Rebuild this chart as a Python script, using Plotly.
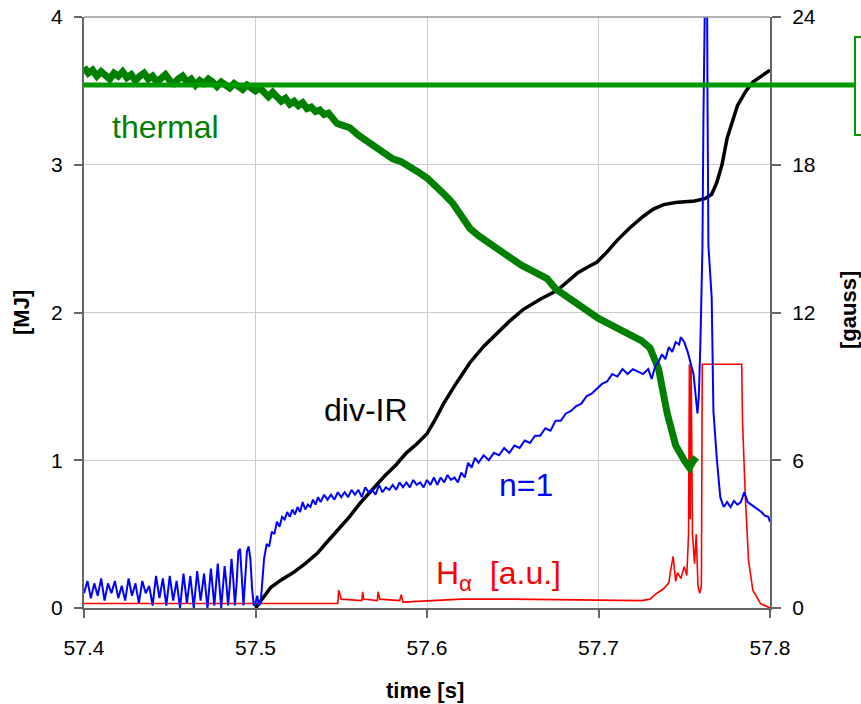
import plotly.graph_objects as go

# ---------------- data ----------------
# stored energy "thermal" [MJ] (time, value)
thermal_pts = [
    (57.4000, 3.66), (57.4025, 3.62), (57.4050, 3.64), (57.4075, 3.60), (57.4100, 3.63),
    (57.4125, 3.61), (57.4150, 3.58), (57.4175, 3.62), (57.4200, 3.60), (57.4225, 3.63),
    (57.4250, 3.59), (57.4275, 3.61), (57.4300, 3.57), (57.4325, 3.60), (57.4350, 3.62),
    (57.4375, 3.58), (57.4400, 3.60), (57.4425, 3.56), (57.4450, 3.59), (57.4475, 3.61),
    (57.4500, 3.57), (57.4525, 3.55), (57.4550, 3.58), (57.4575, 3.60), (57.4600, 3.56),
    (57.4625, 3.58), (57.4650, 3.54), (57.4675, 3.57), (57.4700, 3.55), (57.4725, 3.58),
    (57.4750, 3.56), (57.4775, 3.53), (57.4800, 3.56), (57.4825, 3.54), (57.4850, 3.52),
    (57.4875, 3.55), (57.4900, 3.53), (57.4925, 3.51), (57.4950, 3.54), (57.4975, 3.52),
    (57.5000, 3.50), (57.5025, 3.52), (57.5050, 3.48), (57.5075, 3.46), (57.5100, 3.49),
    (57.5125, 3.45), (57.5150, 3.43), (57.5175, 3.45), (57.5200, 3.41), (57.5225, 3.43),
    (57.5250, 3.40), (57.5275, 3.42), (57.5300, 3.38), (57.5325, 3.39), (57.5350, 3.36),
    (57.5375, 3.37), (57.5400, 3.34), (57.5425, 3.35), (57.5450, 3.31), (57.5475, 3.28),
    (57.5500, 3.27), (57.5550, 3.25), (57.5600, 3.20), (57.5650, 3.16), (57.5700, 3.11),
    (57.5750, 3.08), (57.5800, 3.04), (57.5850, 3.02), (57.5900, 2.99), (57.5950, 2.95),
    (57.6000, 2.91), (57.6050, 2.86), (57.6100, 2.80), (57.6150, 2.74), (57.6200, 2.65),
    (57.6250, 2.57), (57.6300, 2.52), (57.6350, 2.48), (57.6400, 2.43), (57.6450, 2.39),
    (57.6500, 2.36), (57.6550, 2.32), (57.6600, 2.29), (57.6650, 2.26), (57.6700, 2.23),
    (57.6750, 2.16), (57.6800, 2.12), (57.6850, 2.07), (57.6900, 2.03), (57.6950, 1.99),
    (57.7000, 1.96), (57.7050, 1.93), (57.7100, 1.90), (57.7150, 1.87), (57.7200, 1.84),
    (57.7250, 1.81), (57.7300, 1.76), (57.7350, 1.62), (57.7400, 1.32), (57.7450, 1.10),
    (57.7500, 1.00), (57.7530, 0.95), (57.7550, 0.99), (57.7570, 1.02),
]

# divertor IR energy "div-IR" [MJ]
divir_pts = [
    (57.500, 0.00), (57.504, 0.06), (57.509, 0.14), (57.515, 0.19), (57.522, 0.24),
    (57.529, 0.30), (57.536, 0.37), (57.542, 0.45), (57.548, 0.53), (57.555, 0.62),
    (57.561, 0.71), (57.568, 0.80), (57.575, 0.89), (57.582, 0.97), (57.588, 1.05),
    (57.594, 1.11), (57.600, 1.18), (57.605, 1.28), (57.610, 1.39), (57.617, 1.52),
    (57.625, 1.66), (57.633, 1.77), (57.641, 1.86), (57.648, 1.94), (57.656, 2.02),
    (57.666, 2.09), (57.676, 2.15), (57.682, 2.21), (57.688, 2.27), (57.694, 2.31),
    (57.699, 2.34), (57.705, 2.41), (57.711, 2.49), (57.718, 2.57), (57.726, 2.65),
    (57.732, 2.70), (57.738, 2.73), (57.745, 2.745), (57.750, 2.75), (57.756, 2.755),
    (57.762, 2.77), (57.766, 2.80), (57.769, 2.88), (57.772, 3.00), (57.775, 3.18),
    (57.778, 3.30), (57.781, 3.40), (57.786, 3.50), (57.790, 3.56), (57.795, 3.60),
    (57.800, 3.64),
]

# n=1 mode amplitude [gauss]
n1_pts = [
    (57.400, 0.6), (57.402, 1.1), (57.404, 0.4), (57.406, 1.0), (57.408, 0.5),
    (57.410, 1.2), (57.412, 0.3), (57.414, 1.0), (57.416, 0.6), (57.418, 1.1),
    (57.420, 0.4), (57.422, 0.9), (57.424, 0.3), (57.426, 1.2), (57.428, 0.5),
    (57.430, 1.0), (57.432, 0.2), (57.434, 1.1), (57.436, 0.6), (57.438, 0.9),
    (57.440, 0.1), (57.442, 1.3), (57.444, 0.4), (57.446, 1.2), (57.448, 0.1),
    (57.450, 1.3), (57.452, 0.3), (57.454, 1.1), (57.456, 0.0), (57.458, 1.4),
    (57.460, 0.2), (57.462, 1.3), (57.464, 0.0), (57.466, 1.5), (57.468, 0.3),
    (57.470, 1.4), (57.472, 0.0), (57.474, 1.6), (57.476, 0.1), (57.478, 1.8),
    (57.480, 0.0), (57.481, 0.8), (57.482, 1.7), (57.483, 1.0), (57.484, 0.1),
    (57.485, 0.9), (57.486, 2.0), (57.487, 1.2), (57.488, 0.1), (57.489, 1.0),
    (57.490, 2.3), (57.491, 2.4), (57.492, 1.2), (57.493, 0.1), (57.494, 1.2),
    (57.495, 2.3), (57.496, 2.5), (57.497, 2.0), (57.498, 0.8), (57.499, 0.1),
    (57.500, 0.2), (57.501, 0.5), (57.502, 0.1), (57.503, 0.2), (57.505, 2.0),
    (57.5065, 2.6), (57.508, 2.5), (57.5095, 3.1), (57.511, 3.0), (57.5125, 3.5),
    (57.514, 3.3), (57.5155, 3.7), (57.517, 3.6), (57.5185, 3.9), (57.520, 3.7),
    (57.5215, 4.0), (57.523, 3.8), (57.5245, 4.1), (57.526, 3.9), (57.5275, 4.3),
    (57.529, 4.0), (57.5305, 4.2), (57.532, 4.1), (57.5335, 4.4), (57.535, 4.2),
    (57.5365, 4.5), (57.538, 4.3), (57.540, 4.6), (57.542, 4.4), (57.544, 4.6),
    (57.546, 4.4), (57.548, 4.7), (57.550, 4.5), (57.552, 4.7), (57.554, 4.5),
    (57.556, 4.8), (57.558, 4.6), (57.560, 4.8), (57.562, 4.5), (57.564, 4.9),
    (57.566, 4.7), (57.568, 4.8), (57.570, 4.6), (57.572, 5.0), (57.574, 4.7),
    (57.576, 4.9), (57.578, 4.8), (57.580, 5.0), (57.582, 4.8), (57.584, 5.1),
    (57.586, 4.9), (57.588, 5.1), (57.590, 4.9), (57.592, 5.2), (57.594, 5.0),
    (57.596, 5.1), (57.598, 4.9), (57.600, 5.2), (57.602, 5.0), (57.604, 5.3),
    (57.606, 5.0), (57.608, 5.3), (57.610, 5.1), (57.612, 5.4), (57.614, 5.2),
    (57.616, 5.3), (57.618, 5.1), (57.620, 5.5), (57.622, 5.3), (57.624, 5.9),
    (57.626, 5.7), (57.628, 6.1), (57.630, 5.9), (57.633, 6.2), (57.636, 6.0),
    (57.639, 6.3), (57.642, 6.2), (57.645, 6.5), (57.648, 6.3), (57.651, 6.6),
    (57.654, 6.5), (57.657, 6.8), (57.660, 6.7), (57.663, 7.0), (57.666, 7.0),
    (57.669, 7.3), (57.672, 7.2), (57.675, 7.6), (57.678, 7.6), (57.681, 7.9),
    (57.684, 8.0), (57.687, 8.2), (57.690, 8.3), (57.693, 8.6), (57.696, 8.7),
    (57.699, 8.9), (57.702, 9.1), (57.705, 9.2), (57.708, 9.5), (57.711, 9.4),
    (57.714, 9.7), (57.717, 9.5), (57.720, 9.7), (57.723, 9.6), (57.726, 9.5),
    (57.729, 9.7), (57.731, 9.3), (57.733, 9.8), (57.735, 10.0), (57.737, 10.3),
    (57.739, 10.1), (57.741, 10.6), (57.743, 10.4), (57.745, 10.8), (57.747, 10.7),
    (57.748, 11.0), (57.750, 10.8), (57.752, 10.4), (57.7554, 9.5), (57.7577, 7.9),
    (57.7585, 8.6), (57.7595, 11.0), (57.7606, 14.6), (57.7612, 20.0), (57.7615, 30.0),
    (57.7630, 30.0), (57.7636, 20.2), (57.7641, 14.7), (57.7660, 12.6), (57.7665, 9.9),
    (57.7670, 8.0), (57.7690, 6.05), (57.771, 4.5), (57.773, 4.1), (57.775, 4.3),
    (57.777, 4.1), (57.779, 4.35), (57.781, 4.2), (57.783, 4.3), (57.785, 4.7),
    (57.787, 4.3), (57.789, 4.2), (57.791, 4.1), (57.793, 4.0), (57.795, 3.9),
    (57.797, 3.75), (57.799, 3.7), (57.800, 3.5),
]

# H-alpha [a.u.], drawn on the MJ scale
halpha_pts = [
    (57.400, 0.03), (57.548, 0.03), (57.5485, 0.12), (57.550, 0.06), (57.562, 0.05),
    (57.5625, 0.11), (57.563, 0.06), (57.571, 0.05), (57.5715, 0.11), (57.5725, 0.06),
    (57.584, 0.05), (57.585, 0.09), (57.586, 0.04), (57.600, 0.05), (57.620, 0.06),
    (57.650, 0.06), (57.680, 0.055), (57.700, 0.05), (57.725, 0.05), (57.730, 0.06),
    (57.734, 0.10), (57.738, 0.13), (57.741, 0.17), (57.742, 0.25), (57.7435, 0.35),
    (57.745, 0.18), (57.746, 0.24), (57.748, 0.20), (57.750, 0.28), (57.7515, 0.22),
    (57.7525, 0.50), (57.753, 1.65), (57.7535, 0.60), (57.754, 1.65), (57.7548, 0.50),
    (57.756, 0.30), (57.757, 0.50), (57.758, 0.15), (57.759, 0.10), (57.760, 0.15),
    (57.7605, 1.65), (57.7835, 1.65), (57.784, 1.25), (57.7857, 0.73), (57.7875, 0.32),
    (57.790, 0.12), (57.7945, 0.03), (57.800, 0.00),
]

x_ticks = [57.4, 57.5, 57.6, 57.7, 57.8]
y_left_ticks = [0, 1, 2, 3, 4]
y_right_ticks = [0, 6, 12, 18, 24]
thermal_ref_level = 3.54

thermal_t, thermal_mj = zip(*thermal_pts)
divir_t, divir_mj = zip(*divir_pts)
n1_t, n1_gauss = zip(*n1_pts)
halpha_t, halpha_au = zip(*halpha_pts)

# ---------------- figure ----------------
FONT = "Liberation Sans, Arial, sans-serif"
L, R, T, B = 84, 91, 17, 96
W, H = 861, 704
PW, PH = W - L - R, H - T - B


def px(x):
    return (x - L) / PW


def py(y):
    return (H - B - y) / PH


fig = go.Figure()
fig.add_trace(go.Scatter(x=halpha_t, y=halpha_au, mode="lines",
                         line=dict(color="#ff0000", width=1.6), yaxis="y"))
fig.add_trace(go.Scatter(x=n1_t, y=n1_gauss, mode="lines",
                         line=dict(color="#0000ff", width=2), yaxis="y2"))
fig.add_trace(go.Scatter(x=divir_t, y=divir_mj, mode="lines",
                         line=dict(color="#000000", width=3.5), yaxis="y"))
fig.add_trace(go.Scatter(x=thermal_t, y=thermal_mj, mode="lines",
                         line=dict(color="#008000", width=7), yaxis="y"))

fig.update_layout(
    width=W, height=H,
    margin=dict(l=L, r=R, t=T, b=B, autoexpand=False),
    paper_bgcolor="white", plot_bgcolor="white",
    showlegend=False,
    font=dict(family=FONT, size=21, color="black"),
    xaxis=dict(range=[57.4, 57.8], tickvals=x_ticks, ticktext=[f"{v:.1f}" for v in x_ticks],
               showgrid=True, gridcolor="#cccccc", gridwidth=1, automargin=False,
               showline=True, linecolor="#666666", linewidth=2, mirror=False,
               ticks="outside", ticklen=8, tickcolor="#666666", tickwidth=1.5,
               ticklabelstandoff=12, zeroline=False, tickfont=dict(size=21)),
    yaxis=dict(range=[0, 4], tickvals=y_left_ticks, automargin=False,
               showgrid=True, gridcolor="#cccccc", gridwidth=1,
               showline=True, linecolor="#666666", linewidth=2,
               ticks="outside", ticklen=8, tickcolor="#666666", tickwidth=1.5,
               ticklabelstandoff=7, zeroline=False, tickfont=dict(size=21)),
    yaxis2=dict(range=[0, 24], tickvals=y_right_ticks, overlaying="y", side="right",
                showgrid=False, showline=True, linecolor="#666666", linewidth=2,
                automargin=False,
                ticks="outside", ticklen=9, tickcolor="#666666", tickwidth=1.5,
                ticklabelstandoff=7, zeroline=False, tickfont=dict(size=21)),
)

# top border of plot area
fig.add_shape(type="line", xref="paper", yref="paper", x0=0, x1=1, y0=1, y1=1,
              line=dict(color="#999999", width=1.5))
# horizontal green reference line extending to a clipped legend frame
fig.add_shape(type="line", xref="paper", yref="y", x0=0, x1=px(856),
              y0=thermal_ref_level, y1=thermal_ref_level,
              line=dict(color="#009900", width=5))
fig.add_shape(type="rect", xref="paper", yref="paper", x0=px(855), x1=px(875),
              y0=py(135), y1=py(37), line=dict(color="#009900", width=2),
              fillcolor="rgba(0,0,0,0)")

ann = [
    dict(text="thermal", x=px(165), y=py(127), color="#008000"),
    dict(text="div-IR", x=px(366), y=py(410), color="#000000"),
    dict(text="n=1", x=px(526), y=py(485), color="#0000ff"),
    dict(text="H<sub>α</sub>  [a.u.]", x=px(498), y=py(575), color="#ff0000"),
]
for a in ann:
    fig.add_annotation(text=a["text"], x=a["x"], y=a["y"], xref="paper", yref="paper",
                       showarrow=False, xanchor="center", yanchor="middle",
                       font=dict(family=FONT, size=32, color=a["color"]))

fig.add_annotation(text="<b>[MJ]</b>", x=px(21), y=py(313), xref="paper", yref="paper",
                   showarrow=False, textangle=-90, xanchor="center", yanchor="middle",
                   font=dict(family=FONT, size=22, color="black"))
fig.add_annotation(text="<b>[gauss]</b>", x=px(848), y=py(310), xref="paper", yref="paper",
                   showarrow=False, textangle=-90, xanchor="center", yanchor="middle",
                   font=dict(family=FONT, size=22, color="black"))
fig.add_annotation(text="<b>time [s]</b>", x=px(425), y=py(690), xref="paper", yref="paper",
                   showarrow=False, xanchor="center", yanchor="middle",
                   font=dict(family=FONT, size=22, color="black"))

fig.write_html("out.html")
